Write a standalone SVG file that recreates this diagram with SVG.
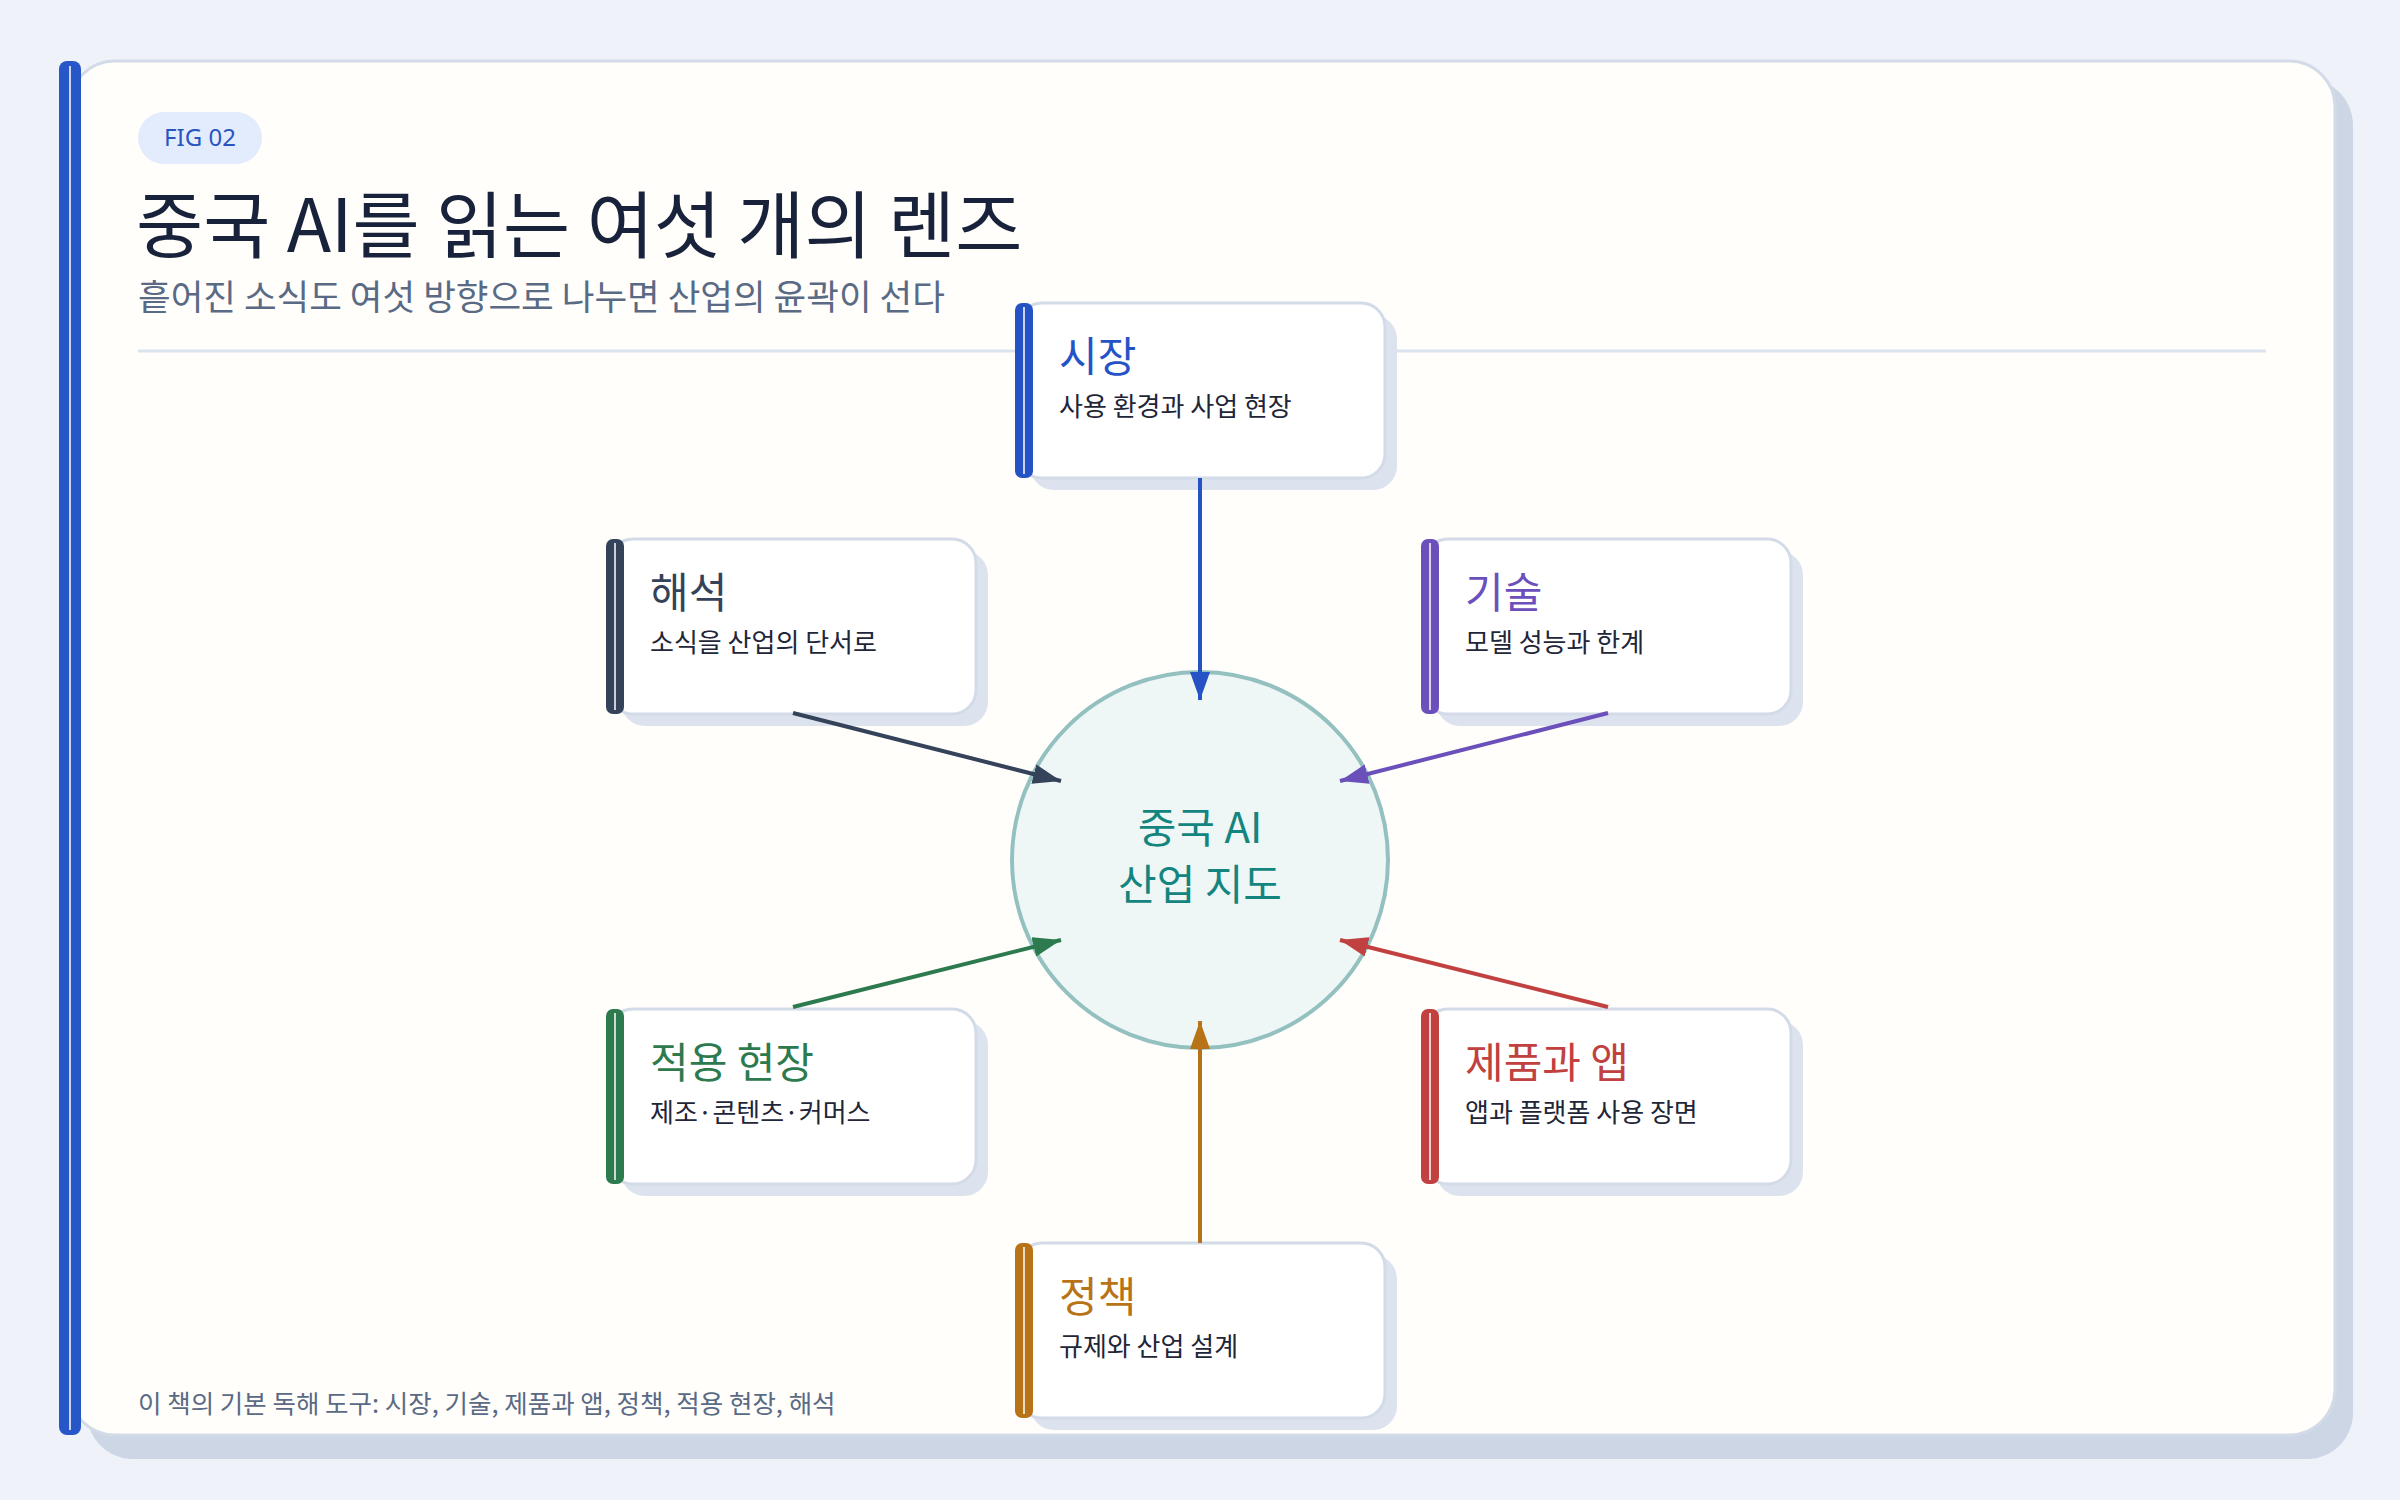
<svg xmlns="http://www.w3.org/2000/svg" width="2400" height="1500" viewBox="0 0 2400 1500">
<defs>
<style>
text{font-family:"Noto Sans CJK KR","Noto Sans",sans-serif}
.ttl{font-size:42px}
.desc{font-size:26px;fill:#1e2638}
.card{fill:#ffffff;stroke:#d3dbe8;stroke-width:3}
.sh{fill:#dce3ee}
.bl{stroke:#ffffff;stroke-width:1.5}
.c{stroke-width:4;fill:none}
</style>
<marker id="m1" viewBox="0 0 28 20" refX="28" refY="10" markerWidth="28" markerHeight="20" markerUnits="userSpaceOnUse" orient="auto"><path d="M0,0 L28,10 L0,20 Z" fill="#2553c6"/></marker>
<marker id="m2" viewBox="0 0 28 20" refX="28" refY="10" markerWidth="28" markerHeight="20" markerUnits="userSpaceOnUse" orient="auto"><path d="M0,0 L28,10 L0,20 Z" fill="#34425a"/></marker>
<marker id="m3" viewBox="0 0 28 20" refX="28" refY="10" markerWidth="28" markerHeight="20" markerUnits="userSpaceOnUse" orient="auto"><path d="M0,0 L28,10 L0,20 Z" fill="#6b4fbb"/></marker>
<marker id="m4" viewBox="0 0 28 20" refX="28" refY="10" markerWidth="28" markerHeight="20" markerUnits="userSpaceOnUse" orient="auto"><path d="M0,0 L28,10 L0,20 Z" fill="#2e7a4f"/></marker>
<marker id="m5" viewBox="0 0 28 20" refX="28" refY="10" markerWidth="28" markerHeight="20" markerUnits="userSpaceOnUse" orient="auto"><path d="M0,0 L28,10 L0,20 Z" fill="#c0413f"/></marker>
<marker id="m6" viewBox="0 0 28 20" refX="28" refY="10" markerWidth="28" markerHeight="20" markerUnits="userSpaceOnUse" orient="auto"><path d="M0,0 L28,10 L0,20 Z" fill="#b87318"/></marker>
</defs>
<rect width="2400" height="1500" fill="#eff3f9"/>
<g id="frame">
<rect x="87" y="79" width="2266" height="1380" rx="46" fill="#cdd6e4"/>
<rect x="69" y="61" width="2266" height="1374" rx="46" fill="#fffefb" stroke="#d3dbe8" stroke-width="3"/>
<rect x="59" y="61" width="22" height="1374" rx="8" fill="#2756c8"/>
<line x1="70" y1="66" x2="70" y2="1430" class="bl"/>
<rect x="138" y="112" width="124" height="52" rx="26" fill="#e3ecfd"/>
<text x="200" y="146" text-anchor="middle" font-size="24" fill="#2a55c0" style="font-family:'Noto Sans','Noto Sans CJK KR',sans-serif">FIG 02</text>
<text x="136" y="252" font-size="73" fill="#18223a">중국 AI를 읽는 여섯 개의 렌즈</text>
<text x="138" y="310" font-size="35.5" fill="#5a6a85">흩어진 소식도 여섯 방향으로 나누면 산업의 윤곽이 선다</text>
<line x1="138" y1="351" x2="2266" y2="351" stroke="#dbe3ee" stroke-width="3"/>
<text x="138" y="1413" font-size="25.5" fill="#5a6a85">이 책의 기본 독해 도구: 시장, 기술, 제품과 앱, 정책, 적용 현장, 해석</text>
</g>
<g id="center">
<circle cx="1200" cy="860" r="188" fill="#eef7f6" stroke="#94c1c0" stroke-width="4"/>
<text x="1200" y="843" text-anchor="middle" font-size="42" fill="#13857e">중국 AI</text>
<text x="1200" y="900" text-anchor="middle" font-size="42" fill="#13857e">산업 지도</text>
</g>
<g id="market" transform="translate(1018,303)">
<rect x="12" y="12" width="367" height="175" rx="24" class="sh"/>
<rect x="0" y="0" width="367" height="175" rx="24" class="card"/>
<rect x="-3" y="0" width="18" height="175" rx="7" fill="#2553c6"/><line x1="6" y1="4" x2="6" y2="171" class="bl"/>
<text x="41" y="69" class="ttl" fill="#2553c6">시장</text>
<text x="41" y="113" class="desc">사용 환경과 사업 현장</text>
</g>
<g id="interpretation" transform="translate(609,539)">
<rect x="12" y="12" width="367" height="175" rx="24" class="sh"/>
<rect x="0" y="0" width="367" height="175" rx="24" class="card"/>
<rect x="-3" y="0" width="18" height="175" rx="7" fill="#34425a"/><line x1="6" y1="4" x2="6" y2="171" class="bl"/>
<text x="41" y="69" class="ttl" fill="#34425a">해석</text>
<text x="41" y="113" class="desc">소식을 산업의 단서로</text>
</g>
<g id="technology" transform="translate(1424,539)">
<rect x="12" y="12" width="367" height="175" rx="24" class="sh"/>
<rect x="0" y="0" width="367" height="175" rx="24" class="card"/>
<rect x="-3" y="0" width="18" height="175" rx="7" fill="#6b4fbb"/><line x1="6" y1="4" x2="6" y2="171" class="bl"/>
<text x="41" y="69" class="ttl" fill="#6b4fbb">기술</text>
<text x="41" y="113" class="desc">모델 성능과 한계</text>
</g>
<g id="application" transform="translate(609,1009)">
<rect x="12" y="12" width="367" height="175" rx="24" class="sh"/>
<rect x="0" y="0" width="367" height="175" rx="24" class="card"/>
<rect x="-3" y="0" width="18" height="175" rx="7" fill="#2e7a4f"/><line x1="6" y1="4" x2="6" y2="171" class="bl"/>
<text x="41" y="69" class="ttl" fill="#2e7a4f">적용 현장</text>
<text x="41" y="113" class="desc">제조·콘텐츠·커머스</text>
</g>
<g id="products" transform="translate(1424,1009)">
<rect x="12" y="12" width="367" height="175" rx="24" class="sh"/>
<rect x="0" y="0" width="367" height="175" rx="24" class="card"/>
<rect x="-3" y="0" width="18" height="175" rx="7" fill="#c0413f"/><line x1="6" y1="4" x2="6" y2="171" class="bl"/>
<text x="41" y="69" class="ttl" fill="#c0413f">제품과 앱</text>
<text x="41" y="113" class="desc">앱과 플랫폼 사용 장면</text>
</g>
<g id="policy" transform="translate(1018,1243)">
<rect x="12" y="12" width="367" height="175" rx="24" class="sh"/>
<rect x="0" y="0" width="367" height="175" rx="24" class="card"/>
<rect x="-3" y="0" width="18" height="175" rx="7" fill="#b87318"/><line x1="6" y1="4" x2="6" y2="171" class="bl"/>
<text x="41" y="69" class="ttl" fill="#b87318">정책</text>
<text x="41" y="113" class="desc">규제와 산업 설계</text>
</g>
<g id="connectors">
<line x1="1200" y1="478" x2="1200" y2="700" class="c" stroke="#2553c6" marker-end="url(#m1)"/>
<line x1="793" y1="713" x2="1061" y2="781" class="c" stroke="#34425a" marker-end="url(#m2)"/>
<line x1="1608" y1="713" x2="1340" y2="781" class="c" stroke="#6b4fbb" marker-end="url(#m3)"/>
<line x1="793" y1="1007" x2="1061" y2="940" class="c" stroke="#2e7a4f" marker-end="url(#m4)"/>
<line x1="1608" y1="1007" x2="1340" y2="940" class="c" stroke="#c0413f" marker-end="url(#m5)"/>
<line x1="1200" y1="1243" x2="1200" y2="1021" class="c" stroke="#b87318" marker-end="url(#m6)"/>
</g>
</svg>
